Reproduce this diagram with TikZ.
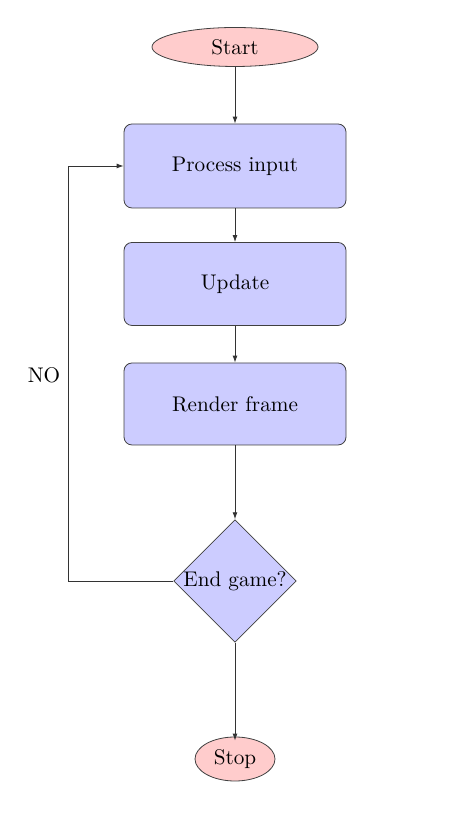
\documentclass[tikz,border=0pt]{standalone}
\usetikzlibrary{shapes.geometric,arrows.meta}
\begin{document}
\begin{tikzpicture}[x=1pt,y=1pt,font=\fontsize{10.6}{13}\selectfont,
  term/.style={ellipse,draw=black!75,fill=red!20,inner sep=0pt},
  procbox/.style={rectangle,rounded corners=4pt,draw=black!75,fill=blue!20,minimum width=111pt,minimum height=41.5pt,inner sep=0pt},
  decis/.style={diamond,draw=black!75,fill=blue!20,minimum width=61pt,minimum height=61pt,inner sep=0pt},
  conn/.style={draw=black!80,line width=0.45pt,-{Latex[length=3.5pt,width=2.5pt]}}]
\useasboundingbox (0,0) rectangle (237,408.5);
\node[term,minimum width=83pt,minimum height=19.5pt] (start) at (117.5,385) {Start};
\node[procbox,minimum height=42pt] (proc) at (117.5,325.5) {Process input};
\node[procbox] (upd) at (117.5,266.5) {Update};
\node[procbox,minimum height=41pt] (rend) at (117.5,206.5) {Render frame};
\node[decis] (dec) at (117.5,118) {End game?};
\node[term,minimum width=40pt,minimum height=22pt] (stop) at (117.5,29) {Stop};
\coordinate (lb) at (34,118);
\coordinate (lt) at (34,325.5);
\node (no) at (22,221) {NO};
\draw[conn] (start) -- (proc);
\draw[conn] (proc) -- (upd);
\draw[conn] (upd) -- (rend);
\draw[conn] (rend) -- (dec);
\draw[conn] (dec) -- ([yshift=-2pt]stop.north);
\draw[conn] (dec.west) -- (lb) -- (lt) -- (proc.west);
\end{tikzpicture}
\end{document}
